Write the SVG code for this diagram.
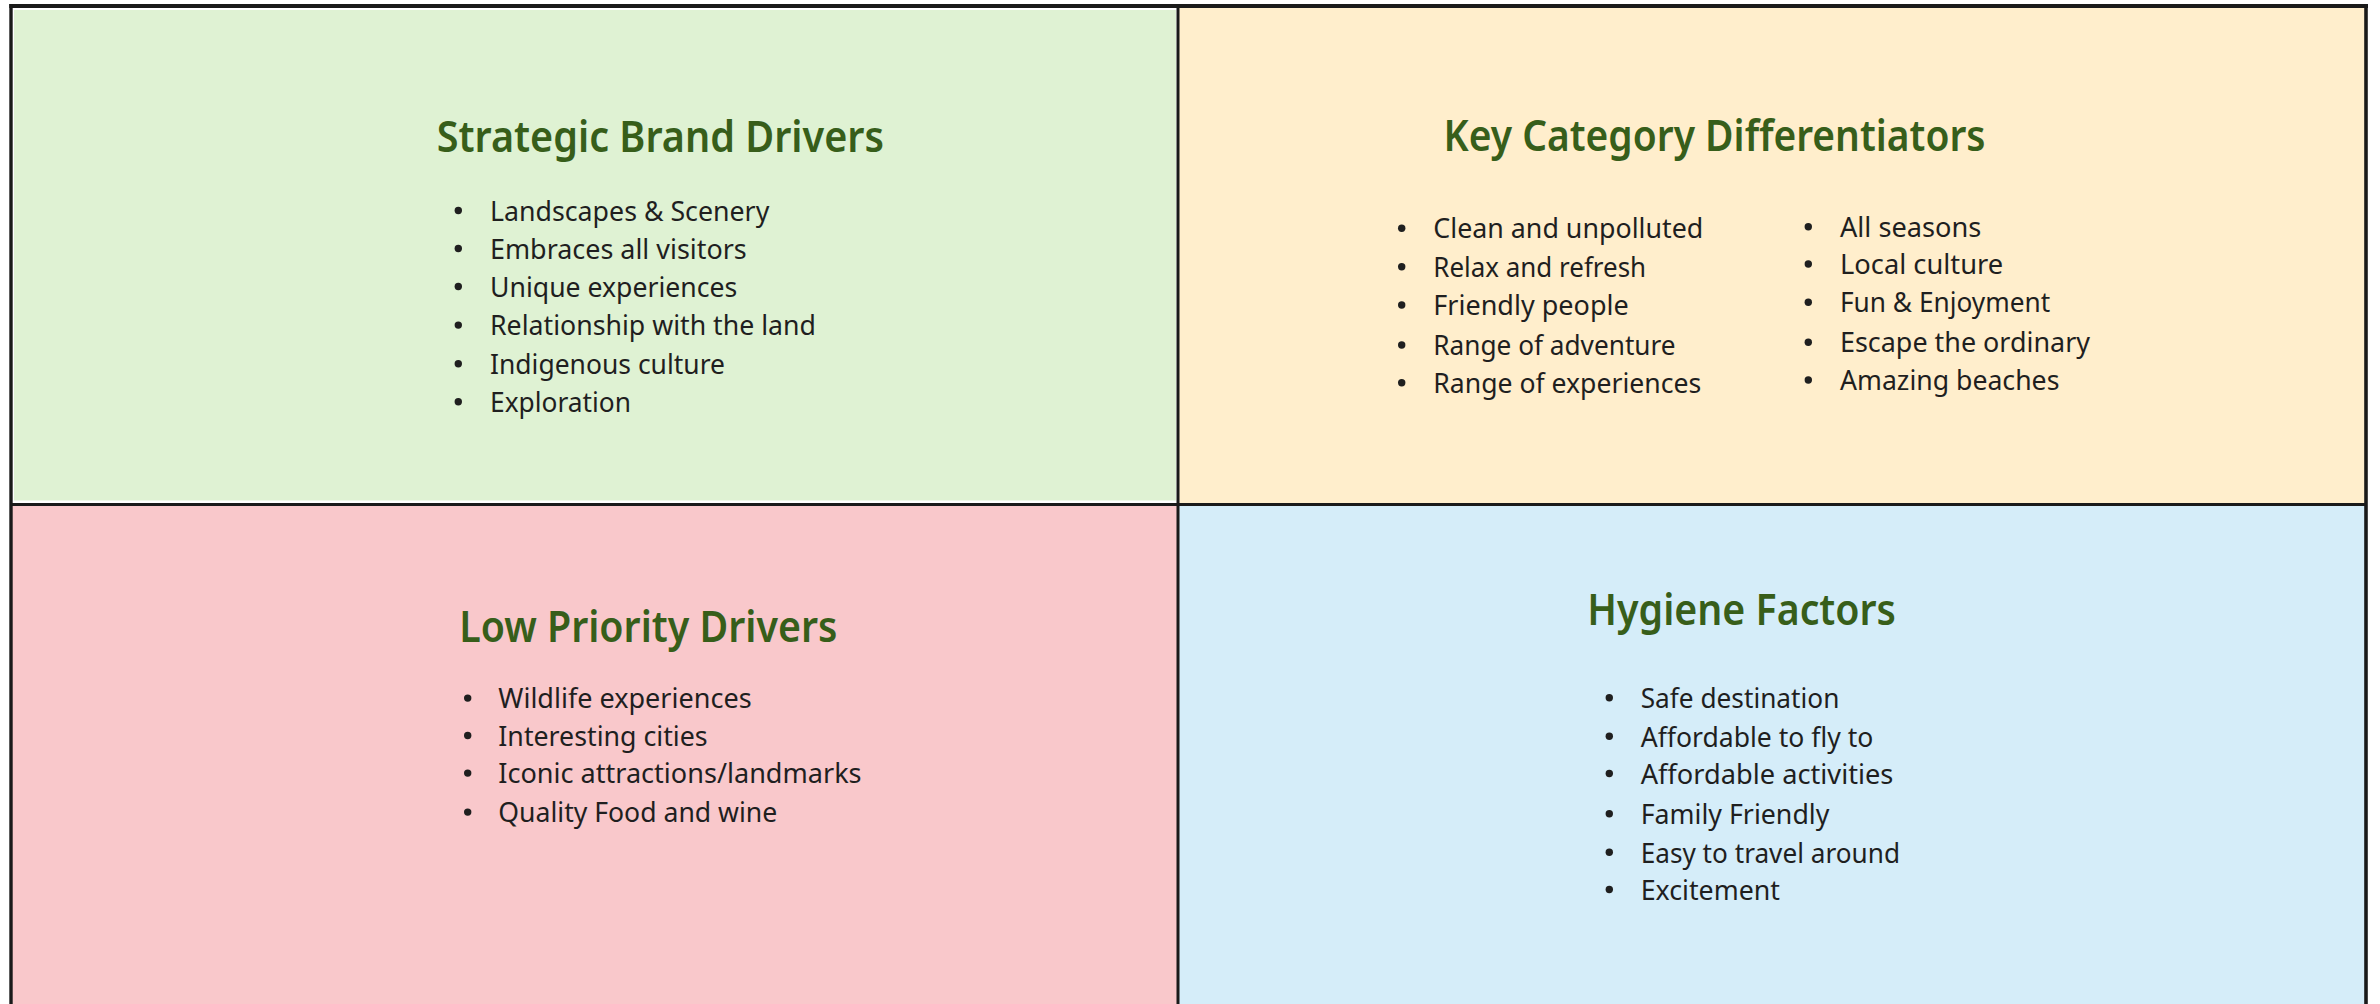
<svg xmlns="http://www.w3.org/2000/svg" xmlns:xlink="http://www.w3.org/1999/xlink" width="2380" height="1004" viewBox="0 0 2380 1004">
  <defs>
    <style>
      .title { font-family: "Noto Sans", "Open Sans", "Liberation Sans", sans-serif; font-size: 43px; font-weight: 600; fill: #375E1A; }
      .item { font-family: "Noto Sans", "Open Sans", "Liberation Sans", sans-serif; font-size: 26.5px; fill: #1F1F1F; }
      .dot { fill: #1F1F1F; }
      .rule { stroke: #1A1A1A; fill: none; }
    </style>
    <circle id="dot" class="dot" r="3.7"/>
  </defs>

  <rect width="2380" height="1004" fill="#FFFFFF"/>

  <!-- Top-left quadrant -->
  <g id="strategic-brand-drivers">
    <rect x="12" y="8" width="1165" height="495" fill="#FFFFFF"/>
    <rect x="14" y="10" width="1162" height="490.5" fill="#DFF2D3"/>
    <text class="title" x="436.7" y="151.7" textLength="447.3" lengthAdjust="spacingAndGlyphs">Strategic Brand Drivers</text>
    <g>
      <use href="#dot" x="458.3" y="210.5"/>
      <use href="#dot" x="458.3" y="248.5"/>
      <use href="#dot" x="458.3" y="286.5"/>
      <use href="#dot" x="458.3" y="325.1"/>
      <use href="#dot" x="458.3" y="363.8"/>
      <use href="#dot" x="458.3" y="401.8"/>
      <text class="item" x="490" y="220.7" textLength="279.3" lengthAdjust="spacingAndGlyphs">Landscapes &amp; Scenery</text>
      <text class="item" x="490" y="258.7" textLength="256.7" lengthAdjust="spacingAndGlyphs">Embraces all visitors</text>
      <text class="item" x="490" y="296.7" textLength="247.3" lengthAdjust="spacingAndGlyphs">Unique experiences</text>
      <text class="item" x="490" y="335.3" textLength="326" lengthAdjust="spacingAndGlyphs">Relationship with the land</text>
      <text class="item" x="490" y="374" textLength="235" lengthAdjust="spacingAndGlyphs">Indigenous culture</text>
      <text class="item" x="490" y="412" textLength="141" lengthAdjust="spacingAndGlyphs">Exploration</text>
    </g>
  </g>

  <!-- Top-right quadrant -->
  <g id="key-category-differentiators">
    <rect x="1179" y="8" width="1186" height="495" fill="#FFEECC"/>
    <text class="title" x="1443.5" y="150.7" textLength="542" lengthAdjust="spacingAndGlyphs">Key Category Differentiators</text>
    <g>
      <use href="#dot" x="1401.7" y="228.3"/>
      <use href="#dot" x="1401.7" y="266.7"/>
      <use href="#dot" x="1401.7" y="305"/>
      <use href="#dot" x="1401.7" y="345"/>
      <use href="#dot" x="1401.7" y="382.7"/>
      <text class="item" x="1433.3" y="238.3" textLength="270" lengthAdjust="spacingAndGlyphs">Clean and unpolluted</text>
      <text class="item" x="1433.3" y="276.7" textLength="212.8" lengthAdjust="spacingAndGlyphs">Relax and refresh</text>
      <text class="item" x="1433.3" y="315" textLength="195.4" lengthAdjust="spacingAndGlyphs">Friendly people</text>
      <text class="item" x="1433.3" y="355" textLength="242.3" lengthAdjust="spacingAndGlyphs">Range of adventure</text>
      <text class="item" x="1433.3" y="392.7" textLength="267.9" lengthAdjust="spacingAndGlyphs">Range of experiences</text>
    </g>
    <g>
      <use href="#dot" x="1808.3" y="226.7"/>
      <use href="#dot" x="1808.3" y="264"/>
      <use href="#dot" x="1808.3" y="302.3"/>
      <use href="#dot" x="1808.3" y="342.3"/>
      <use href="#dot" x="1808.3" y="380"/>
      <text class="item" x="1840" y="236.7" textLength="141.3" lengthAdjust="spacingAndGlyphs">All seasons</text>
      <text class="item" x="1840" y="274" textLength="163.2" lengthAdjust="spacingAndGlyphs">Local culture</text>
      <text class="item" x="1840" y="312.3" textLength="210.2" lengthAdjust="spacingAndGlyphs">Fun &amp; Enjoyment</text>
      <text class="item" x="1840" y="352.3" textLength="250" lengthAdjust="spacingAndGlyphs">Escape the ordinary</text>
      <text class="item" x="1840" y="390" textLength="219.4" lengthAdjust="spacingAndGlyphs">Amazing beaches</text>
    </g>
  </g>

  <!-- Bottom-left quadrant -->
  <g id="low-priority-drivers">
    <rect x="12" y="506" width="1165" height="498" fill="#F9C8CB"/>
    <text class="title" x="459.3" y="641.7" textLength="378" lengthAdjust="spacingAndGlyphs">Low Priority Drivers</text>
    <g>
      <use href="#dot" x="467.7" y="698.1"/>
      <use href="#dot" x="467.7" y="735.5"/>
      <use href="#dot" x="467.7" y="773.1"/>
      <use href="#dot" x="467.7" y="812.1"/>
      <text class="item" x="498.3" y="708.3" textLength="253.3" lengthAdjust="spacingAndGlyphs">Wildlife experiences</text>
      <text class="item" x="498.3" y="745.7" textLength="209.3" lengthAdjust="spacingAndGlyphs">Interesting cities</text>
      <text class="item" x="498.3" y="783.3" textLength="363.3" lengthAdjust="spacingAndGlyphs">Iconic attractions/landmarks</text>
      <text class="item" x="498.3" y="822.3" textLength="279" lengthAdjust="spacingAndGlyphs">Quality Food and wine</text>
    </g>
  </g>

  <!-- Bottom-right quadrant -->
  <g id="hygiene-factors">
    <rect x="1179" y="506" width="1186" height="498" fill="#D5EDF9"/>
    <text class="title" x="1587.3" y="625" textLength="308.7" lengthAdjust="spacingAndGlyphs">Hygiene Factors</text>
    <g>
      <use href="#dot" x="1609.3" y="697.8"/>
      <use href="#dot" x="1609.3" y="736.2"/>
      <use href="#dot" x="1609.3" y="773.5"/>
      <use href="#dot" x="1609.3" y="813.8"/>
      <use href="#dot" x="1609.3" y="852.2"/>
      <use href="#dot" x="1609.3" y="889.5"/>
      <text class="item" x="1640.7" y="708.3" textLength="198.7" lengthAdjust="spacingAndGlyphs">Safe destination</text>
      <text class="item" x="1640.7" y="746.7" textLength="232.7" lengthAdjust="spacingAndGlyphs">Affordable to fly to</text>
      <text class="item" x="1640.7" y="784" textLength="252.7" lengthAdjust="spacingAndGlyphs">Affordable activities</text>
      <text class="item" x="1640.7" y="824.3" textLength="188.7" lengthAdjust="spacingAndGlyphs">Family Friendly</text>
      <text class="item" x="1640.7" y="862.7" textLength="259.3" lengthAdjust="spacingAndGlyphs">Easy to travel around</text>
      <text class="item" x="1640.7" y="900" textLength="139.3" lengthAdjust="spacingAndGlyphs">Excitement</text>
    </g>
  </g>

  <!-- Grid frame and dividers -->
  <g id="grid">
    <line class="rule" x1="9.3" y1="6" x2="2368" y2="6" stroke-width="4"/>
    <line class="rule" x1="11" y1="4" x2="11" y2="1004" stroke-width="3.4"/>
    <line class="rule" x1="2366" y1="4" x2="2366" y2="1004" stroke-width="3.6"/>
    <line class="rule" x1="1178" y1="6" x2="1178" y2="1004" stroke-width="3"/>
    <line class="rule" x1="11" y1="504.5" x2="2366" y2="504.5" stroke-width="3"/>
  </g>
</svg>
